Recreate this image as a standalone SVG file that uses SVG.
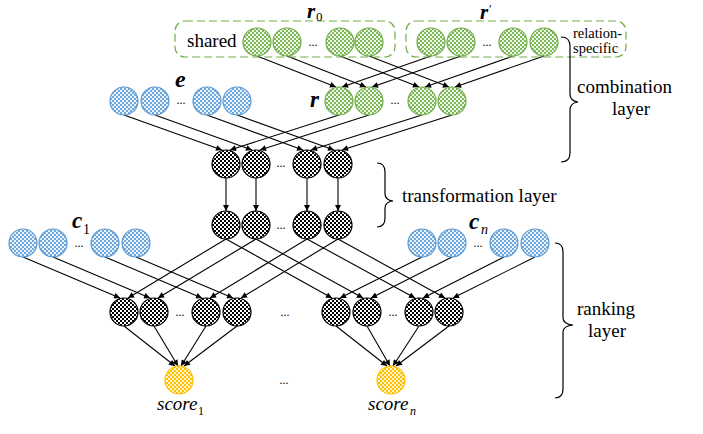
<svg xmlns="http://www.w3.org/2000/svg" width="703" height="434" viewBox="0 0 703 434">
<defs>
<pattern id="pg" width="4" height="4" patternUnits="userSpaceOnUse"><rect width="4" height="4" fill="#EEF6E8"/><rect width="2" height="2" fill="#7EB85A"/><rect x="2" y="2" width="2" height="2" fill="#7EB85A"/></pattern>
<pattern id="pb" width="4" height="4" patternUnits="userSpaceOnUse"><rect width="4" height="4" fill="#EAF2FA"/><rect width="2" height="2" fill="#6FA8DC"/><rect x="2" y="2" width="2" height="2" fill="#6FA8DC"/></pattern>
<pattern id="pk" width="4" height="4" patternUnits="userSpaceOnUse"><rect width="4" height="4" fill="#FFFFFF"/><rect width="2" height="2" fill="#000"/><rect x="2" y="2" width="2" height="2" fill="#000"/></pattern>
<pattern id="py" width="4" height="4" patternUnits="userSpaceOnUse"><rect width="4" height="4" fill="#FFF4D0"/><rect width="2" height="2" fill="#FFC000"/><rect x="2" y="2" width="2" height="2" fill="#FFC000"/></pattern>
<marker id="ah" viewBox="0 0 10 10" refX="10" refY="5" markerWidth="7" markerHeight="6" markerUnits="userSpaceOnUse" orient="auto"><path d="M0,0 L10,5 L0,10 z" fill="#000"/></marker>
</defs>
<style>
.g{fill:url(#pg);stroke:#70AD47;stroke-width:1.2}
.b{fill:url(#pb);stroke:#5B9BD5;stroke-width:1.2}
.k{fill:url(#pk);stroke:#000;stroke-width:1.2}
.y{fill:url(#py);stroke:#FFC000;stroke-width:1.2}
.box{fill:none;stroke:#70AD47;stroke-width:1.2;stroke-dasharray:8 4}
text{font-family:'Liberation Serif','Times New Roman','DejaVu Serif',serif;fill:#000}
.lab{font-weight:bold;font-style:italic}
.dots{font-size:12px;text-anchor:middle}
#connectors line{stroke:#000;stroke-width:1.1;marker-end:url(#ah)}
.br{fill:none;stroke:#000;stroke-width:1.2}
</style>
<rect width="703" height="434" fill="#fff"/>

<g id="connectors">
<line x1="257" y1="56" x2="336" y2="87"/><line x1="287" y1="56" x2="366" y2="87"/><line x1="340" y1="56" x2="419" y2="87"/><line x1="369" y1="56" x2="449" y2="87"/>
<line x1="431" y1="56" x2="342" y2="87"/><line x1="461" y1="56" x2="372" y2="87"/><line x1="513" y1="56" x2="425" y2="87"/><line x1="544" y1="56" x2="455" y2="87"/>
<line x1="124" y1="115" x2="222" y2="150"/><line x1="155" y1="115" x2="252" y2="150"/><line x1="207" y1="115" x2="303" y2="150"/><line x1="237" y1="115" x2="334" y2="150"/>
<line x1="339" y1="115" x2="230" y2="150"/><line x1="369" y1="115" x2="260" y2="150"/><line x1="422" y1="115" x2="311" y2="150"/><line x1="452" y1="115" x2="342" y2="150"/>
<line x1="226" y1="178" x2="226" y2="211"/><line x1="256" y1="178" x2="256" y2="211"/><line x1="307" y1="178" x2="307" y2="211"/><line x1="338" y1="178" x2="338" y2="211"/>
<line x1="226" y1="239" x2="128" y2="298"/><line x1="256" y1="239" x2="158" y2="298"/><line x1="307" y1="239" x2="210" y2="298"/><line x1="338" y1="239" x2="241" y2="298"/>
<line x1="23" y1="257" x2="120" y2="298"/><line x1="53" y1="257" x2="150" y2="298"/><line x1="105" y1="257" x2="202" y2="298"/><line x1="136" y1="257" x2="233" y2="298"/>
<line x1="226" y1="239" x2="332" y2="298"/><line x1="256" y1="239" x2="363" y2="298"/><line x1="307" y1="239" x2="415" y2="298"/><line x1="338" y1="239" x2="445" y2="298"/>
<line x1="422" y1="257" x2="340" y2="298"/><line x1="452" y1="257" x2="371" y2="298"/><line x1="504" y1="257" x2="423" y2="298"/><line x1="535" y1="257" x2="453" y2="298"/>
<line x1="124" y1="326" x2="175" y2="366"/><line x1="154" y1="326" x2="178" y2="366"/><line x1="206" y1="326" x2="181" y2="366"/><line x1="237" y1="326" x2="184" y2="366"/>
<line x1="336" y1="326" x2="387" y2="366"/><line x1="367" y1="326" x2="390" y2="366"/><line x1="419" y1="326" x2="393" y2="366"/><line x1="449" y1="326" x2="396" y2="366"/>
</g>

<g id="shared-box">
<rect class="box" x="175" y="21" width="220" height="36" rx="10"/>
<text x="187" y="47" font-size="19">shared</text>
</g>
<g id="specific-box">
<rect class="box" x="406" y="21" width="220" height="36" rx="10"/>
<text x="573" y="38" font-size="14.5">relation-</text>
<text x="573" y="53" font-size="14.5">specific</text>
</g>

<g id="r0">
<circle class="g" cx="257" cy="42" r="14"/><circle class="g" cx="287" cy="42" r="14"/>
<text class="dots" x="313" y="46">...</text>
<circle class="g" cx="340" cy="42" r="14"/><circle class="g" cx="369" cy="42" r="14"/>
<text class="lab" x="307" y="18" font-size="21">r</text><text x="316" y="21" font-size="13">0</text>
</g>
<g id="rprime">
<circle class="g" cx="431" cy="42" r="14"/><circle class="g" cx="461" cy="42" r="14"/>
<text class="dots" x="487" y="46">...</text>
<circle class="g" cx="513" cy="42" r="14"/><circle class="g" cx="544" cy="42" r="14"/>
<text class="lab" x="480" y="19" font-size="21">r</text><text x="489" y="13" font-size="12">′</text>
</g>

<g id="e">
<circle class="b" cx="124" cy="101" r="14"/><circle class="b" cx="155" cy="101" r="14"/>
<text class="dots" x="181" y="104">...</text>
<circle class="b" cx="207" cy="101" r="14"/><circle class="b" cx="237" cy="101" r="14"/>
<text class="lab" x="175" y="87" font-size="24">e</text>
</g>
<g id="r">
<circle class="g" cx="339" cy="101" r="14"/><circle class="g" cx="369" cy="101" r="14"/>
<text class="dots" x="395" y="104">...</text>
<circle class="g" cx="422" cy="101" r="14"/><circle class="g" cx="452" cy="101" r="14"/>
<text class="lab" x="310" y="107" font-size="23">r</text>
</g>

<g id="hidden1">
<circle class="k" cx="226" cy="164" r="14"/><circle class="k" cx="256" cy="164" r="14"/>
<text class="dots" x="281" y="167">...</text>
<circle class="k" cx="307" cy="164" r="14"/><circle class="k" cx="338" cy="164" r="14"/>
</g>
<g id="hidden2">
<circle class="k" cx="226" cy="225" r="14"/><circle class="k" cx="256" cy="225" r="14"/>
<text class="dots" x="281" y="229">...</text>
<circle class="k" cx="307" cy="225" r="14"/><circle class="k" cx="338" cy="225" r="14"/>
</g>

<g id="c1">
<circle class="b" cx="23" cy="243" r="14"/><circle class="b" cx="53" cy="243" r="14"/>
<text class="dots" x="79" y="247">...</text>
<circle class="b" cx="105" cy="243" r="14"/><circle class="b" cx="136" cy="243" r="14"/>
<text class="lab" x="72" y="228" font-size="23">c</text><text x="83" y="234" font-size="14">1</text>
</g>
<g id="cn">
<circle class="b" cx="422" cy="243" r="14"/><circle class="b" cx="452" cy="243" r="14"/>
<text class="dots" x="478" y="247">...</text>
<circle class="b" cx="504" cy="243" r="14"/><circle class="b" cx="535" cy="243" r="14"/>
<text class="lab" x="469" y="228.5" font-size="23">c</text><text x="481" y="234" font-size="14" font-style="italic">n</text>
</g>

<g id="rank1">
<circle class="k" cx="124" cy="312" r="14"/><circle class="k" cx="154" cy="312" r="14"/>
<text class="dots" x="180" y="316">...</text>
<circle class="k" cx="206" cy="312" r="14"/><circle class="k" cx="237" cy="312" r="14"/>
</g>
<text class="dots" x="285" y="316">...</text>
<g id="rankn">
<circle class="k" cx="336" cy="312" r="14"/><circle class="k" cx="367" cy="312" r="14"/>
<text class="dots" x="393" y="316">...</text>
<circle class="k" cx="419" cy="312" r="14"/><circle class="k" cx="449" cy="312" r="14"/>
</g>

<g id="score1">
<circle class="y" cx="179" cy="380" r="14"/>
<text x="157" y="410" font-size="19" font-style="italic">score</text><text x="198" y="415" font-size="12">1</text>
</g>
<text class="dots" x="284" y="384">...</text>
<g id="scoren">
<circle class="y" cx="391" cy="380" r="14"/>
<text x="368" y="410" font-size="19" font-style="italic">score</text><text x="410" y="415" font-size="12" font-style="italic">n</text>
</g>

<g id="combination-layer">
<path class="br" d="M561,37 Q570,37 570,46 L570,94 Q570,101 578,102 Q570,103 570,110 L570,153 Q570,162 561,162"/>
<text x="577" y="93" font-size="19">combination</text>
<text x="612" y="115" font-size="19">layer</text>
</g>
<g id="transformation-layer">
<path class="br" d="M377,163 Q385,163 385,172 L385,194 Q385,200 393,201 Q385,202 385,208 L385,218 Q385,227 377,227"/>
<text x="402" y="202" font-size="19">transformation layer</text>
</g>
<g id="ranking-layer">
<path class="br" d="M555,243 Q563,243 563,252 L563,318 Q563,324 573,325 Q563,326 563,332 L563,389 Q563,398 555,398"/>
<text x="577" y="315" font-size="19">ranking</text>
<text x="588" y="337" font-size="19">layer</text>
</g>
</svg>
